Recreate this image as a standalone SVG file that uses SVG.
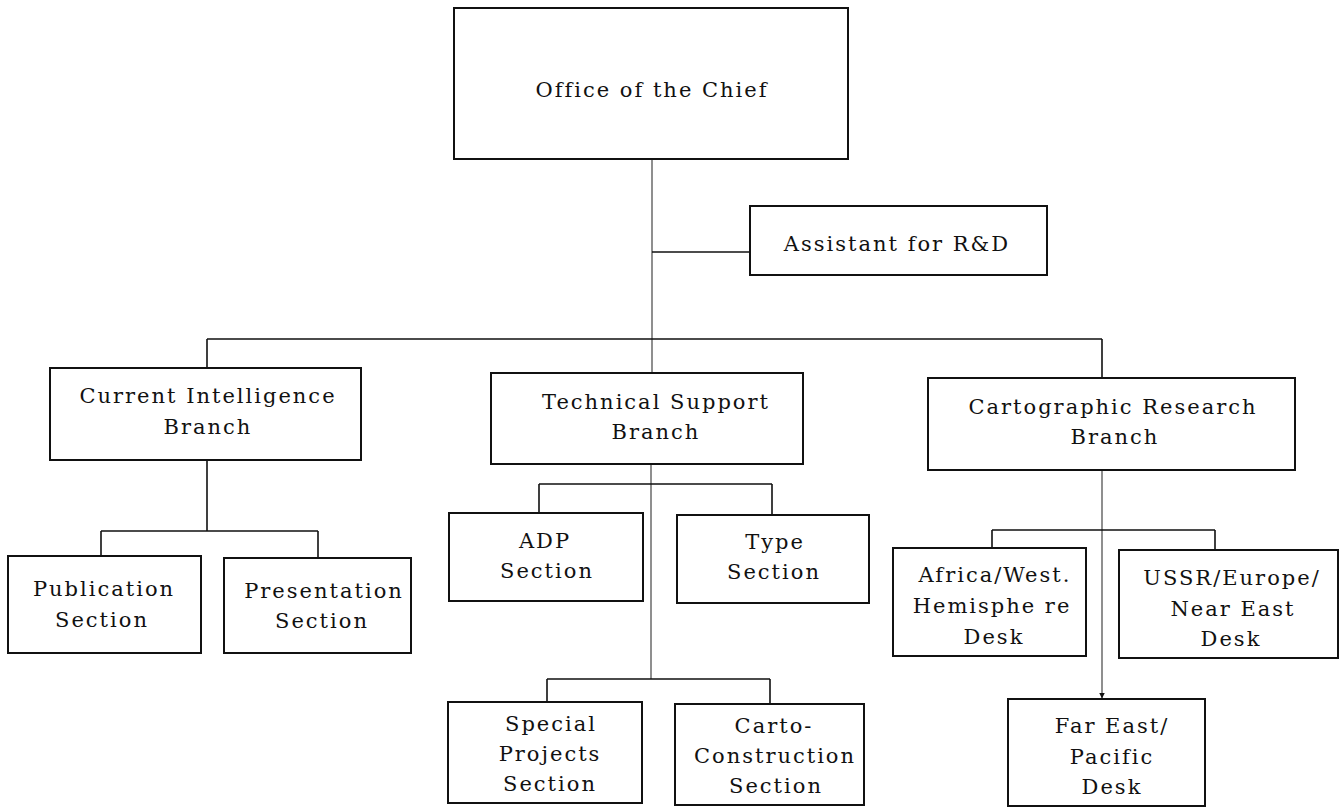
<svg xmlns="http://www.w3.org/2000/svg" width="1340" height="809" viewBox="0 0 1340 809">
<style>
.box{fill:#fff;stroke:#111;stroke-width:2}
.ln{fill:none;stroke:#111;stroke-width:1.6}
.thin{fill:none;stroke:#333;stroke-width:1.1}
text{font-family:"DejaVu Serif","Liberation Serif",serif;font-size:21px;fill:#111;text-anchor:middle;letter-spacing:2px}
</style>
<defs>
<marker id="ah" viewBox="0 0 10 10" refX="9" refY="5" markerWidth="5" markerHeight="5" orient="auto"><path d="M0,0 L10,5 L0,10 z" fill="#111"/></marker>
</defs>
<rect width="1340" height="809" fill="#fff"/>
<g id="connectors">
<path class="thin" d="M652,159 V373"/>
<path class="ln" d="M652,252 H750"/>
<path class="ln" d="M207,339 H1102 M207,339 V368 M1102,339 V378"/>
<path class="ln" d="M207,460 V531 M101,531 H318 M101,531 V556 M318,531 V558"/>
<path class="thin" d="M651,464 V679"/>
<path class="ln" d="M539,484 H772 M539,484 V513 M772,484 V515"/>
<path class="ln" d="M547,679 H770 M547,679 V702 M770,679 V704"/>
<path class="thin" d="M1102,470 V698" marker-end="url(#ah)"/>
<path class="ln" d="M992,530 H1215 M992,530 V548 M1215,530 V550"/>
</g>
<g id="chief"><rect class="box" x="454" y="8" width="394" height="151"/><text x="652" y="97">Office of the Chief</text></g>
<g id="assistant"><rect class="box" x="750" y="206" width="297" height="69"/><text x="897" y="251">Assistant for R&amp;D</text></g>
<g id="current-intel"><rect class="box" x="50" y="368" width="311" height="92"/><text x="208" y="403">Current Intelligence</text><text x="208" y="434">Branch</text></g>
<g id="tech-support"><rect class="box" x="491" y="373" width="312" height="91"/><text x="656" y="409">Technical Support</text><text x="656" y="439">Branch</text></g>
<g id="carto-research"><rect class="box" x="928" y="378" width="367" height="92"/><text x="1113" y="414">Cartographic Research</text><text x="1115" y="444">Branch</text></g>
<g id="publication"><rect class="box" x="8" y="556" width="193" height="97"/><text x="104" y="596">Publication</text><text x="102" y="627">Section</text></g>
<g id="presentation"><rect class="box" x="224" y="558" width="187" height="95"/><text x="324" y="598">Presentation</text><text x="322" y="628">Section</text></g>
<g id="adp"><rect class="box" x="449" y="513" width="194" height="88"/><text x="545" y="548">ADP</text><text x="547" y="578">Section</text></g>
<g id="type"><rect class="box" x="677" y="515" width="192" height="88"/><text x="775" y="549">Type</text><text x="774" y="579">Section</text></g>
<g id="special-projects"><rect class="box" x="448" y="702" width="194" height="101"/><text x="551" y="731">Special</text><text x="550" y="761">Projects</text><text x="550" y="791">Section</text></g>
<g id="carto-construction"><rect class="box" x="675" y="704" width="189" height="101"/><text x="774" y="733">Carto-</text><text x="775" y="763">Construction</text><text x="776" y="793">Section</text></g>
<g id="africa"><rect class="box" x="893" y="548" width="193" height="108"/><text x="995" y="582">Africa/West.</text><text x="992" y="613">Hemisphe re</text><text x="994" y="644">Desk</text></g>
<g id="ussr"><rect class="box" x="1119" y="550" width="219" height="108"/><text x="1232" y="585">USSR/Europe/</text><text x="1233" y="616">Near East</text><text x="1231" y="646">Desk</text></g>
<g id="far-east"><rect class="box" x="1008" y="699" width="197" height="107"/><text x="1112" y="733">Far East/</text><text x="1112" y="764">Pacific</text><text x="1112" y="794">Desk</text></g>
</svg>
